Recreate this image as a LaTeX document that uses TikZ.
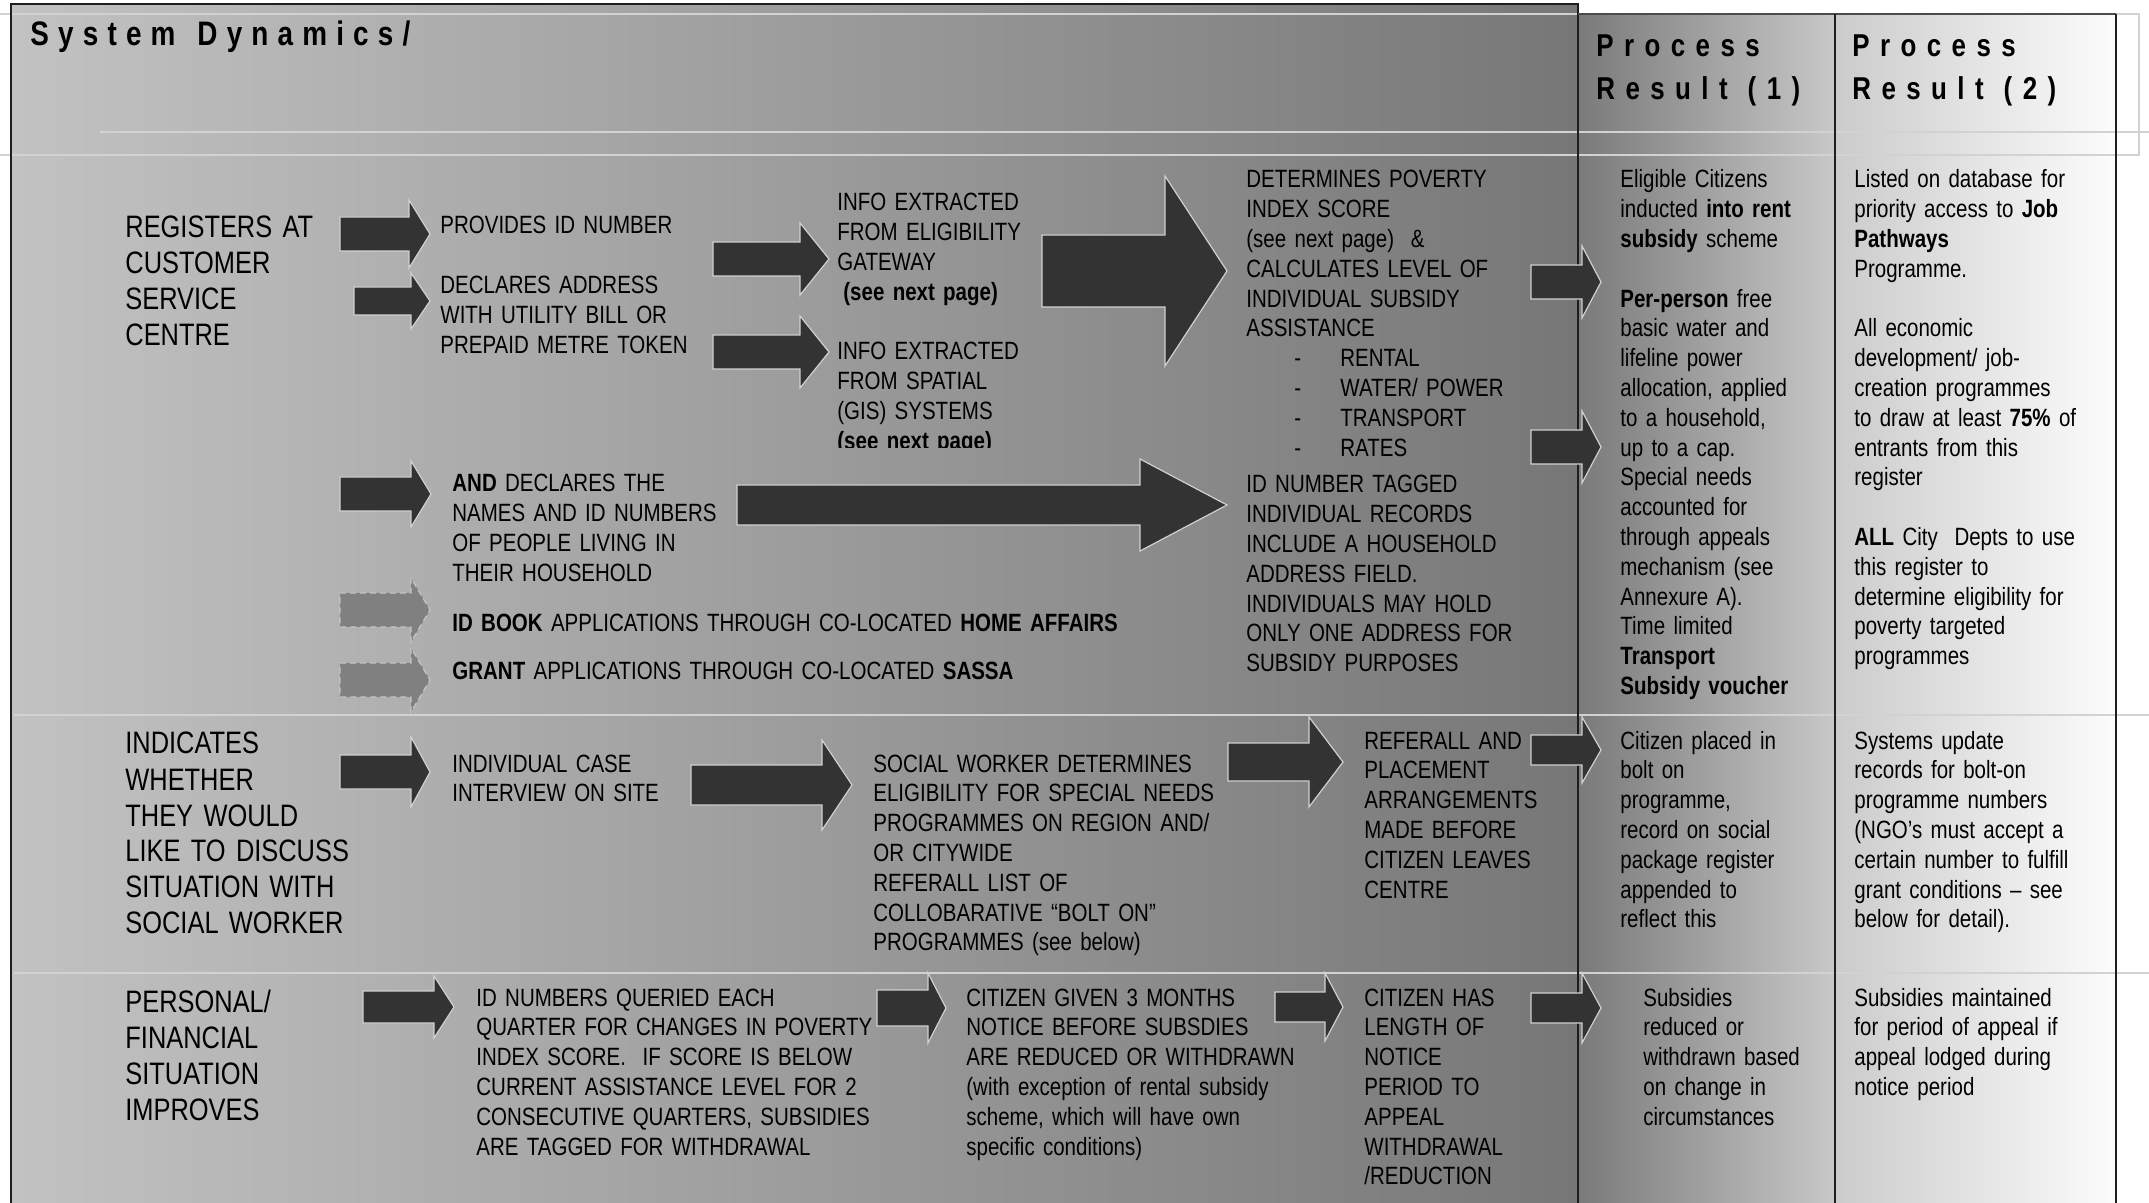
\documentclass[tikz,border=0pt]{standalone}
\usepackage{fontspec}
\setmainfont{Liberation Sans}[FakeStretch=0.82]
\newfontfamily\titlefont{Liberation Sans}[FakeStretch=0.82,LetterSpace=27]
\newfontfamily\headfont{Liberation Sans}[FakeStretch=0.82,LetterSpace=33]
\definecolor{panelL}{HTML}{C2C2C2}
\definecolor{panelR}{HTML}{777777}
\definecolor{resAL}{HTML}{7A7A7A}
\definecolor{resAR}{HTML}{C8C8C8}
\definecolor{resBL}{HTML}{CBCBCB}
\definecolor{resBR}{HTML}{FCFCFC}
\definecolor{arrowfill}{HTML}{333333}
\definecolor{arrowline}{HTML}{D0D0D0}
\definecolor{grayfill}{HTML}{808080}
\definecolor{softline}{HTML}{D2D2D2}
\definecolor{framecol}{HTML}{1E1E1E}
\tikzset{
  body/.style={anchor=base west, inner sep=0pt, text width=420pt, align=left,
    font=\fontsize{12.5pt}{14.9pt}\selectfont},
  rowhead/.style={body, font=\fontsize{15.5pt}{18pt}\selectfont},
  colhead/.style={anchor=base west, inner sep=0pt, text width=200pt, align=left,
    font=\headfont\bfseries\fontsize{15.8pt}{21.5pt}\selectfont},
  pagehead/.style={colhead, font=\titlefont\bfseries\fontsize{17pt}{20pt}\selectfont},
  blk/.style={fill=arrowfill, draw=arrowline, line width=0.6pt},
  blkgray/.style={fill=grayfill, draw=gray!45!white, densely dashed, line width=0.6pt}
}
\newcommand{\blockarrow}[7][blk]{%
  \draw[#1] (#2,#5-#6)--(#3,#5-#6)--(#3,#5-#7)--(#4,#5)--(#3,#5+#7)--(#3,#5+#6)--(#2,#5+#6)--cycle;}
\begin{document}
\begin{tikzpicture}[x=0.5pt,y=-0.5pt]
\useasboundingbox (0,0) rectangle (2149,1203);
\shade[left color=panelL, right color=panelR] (11,4) rectangle (1578,1203);
\shade[left color=resAL, right color=resAR] (1578,14) rectangle (1835,1203);
\shade[left color=resBL, right color=resBR] (1835,14) rectangle (2116,1203);
\draw[softline, line width=1pt] (0,14)--(2139,14)--(2139,155)--(0,155);
\draw[softline, line width=1pt] (100,132)--(2149,132);
\draw[softline, line width=1.2pt] (14,715)--(2149,715);
\draw[softline, line width=1.2pt] (14,973)--(2149,973);
\draw[framecol, line width=1pt] (11,1203)--(11,4)--(1578,4)--(1578,1203);
\draw[gray!60!black, line width=0.8pt] (1578,14)--(2116,14);
\draw[framecol, line width=1pt] (1835,14)--(1835,1203);
\draw[framecol, line width=1pt] (2116,14)--(2116,1203);

\node[pagehead] (title) at (30,46) {System\hspace*{11pt}Dynamics/};
\node[colhead] (resulta) at (1596,57) {Process\\Result\hspace*{10pt}(1)};
\node[colhead] (resultb) at (1852,57) {Process\\Result\hspace*{10pt}(2)};

\blockarrow{340}{409}{430}{234}{17}{34}
\blockarrow{354}{411}{430}{301}{14}{28}
\blockarrow{713}{800}{829}{259}{17}{36}
\blockarrow{713}{800}{829}{352}{17}{36}
\blockarrow{1042}{1165}{1227}{271}{36}{95}
\blockarrow{1531}{1582}{1601}{282}{17}{36}
\blockarrow{1531}{1582}{1601}{447}{17}{36}
\blockarrow{340}{411}{431}{494}{17}{33}
\blockarrow{737}{1140}{1227}{505}{20}{46}
\blockarrow[blkgray]{340}{411}{430}{610}{17}{32}
\blockarrow[blkgray]{340}{411}{430}{680}{17}{32}
\blockarrow{340}{411}{430}{772}{17}{35}
\blockarrow{691}{822}{852}{785}{20}{45}
\blockarrow{1228}{1309}{1343}{762}{19}{45}
\blockarrow{1531}{1582}{1601}{750}{15}{33}
\blockarrow{363}{434}{454}{1007}{16}{31}
\blockarrow{877}{928}{946}{1008}{18}{35}
\blockarrow{1275}{1325}{1343}{1007}{15}{34}
\blockarrow{1531}{1582}{1601}{1008}{15}{35}

\node[rowhead] (registers) at (125,238) {REGISTERS AT\\CUSTOMER\\SERVICE\\CENTRE};
\node[body] (provides) at (440,234) {PROVIDES ID NUMBER};
\node[body] (address) at (440,294) {DECLARES ADDRESS\\WITH UTILITY BILL OR\\PREPAID METRE TOKEN};
\node[body] (gateway) at (837,211) {INFO EXTRACTED\\FROM ELIGIBILITY\\GATEWAY\\\hspace*{3pt}\textbf{(see next page)}};
\begin{scope}
\clip (830,330) rectangle (1060,448);
\node[body] (spatial) at (837,360) {INFO EXTRACTED\\FROM SPATIAL\\(GIS) SYSTEMS\\\textbf{(see next page)}};
\end{scope}
\node[body] (poverty) at (1246,188) {DETERMINES POVERTY\\INDEX SCORE\\(see next page)\ \ \&\\CALCULATES LEVEL OF\\INDIVIDUAL SUBSIDY\\ASSISTANCE\\
\hspace*{24pt}\makebox[23pt][l]{-}RENTAL\\
\hspace*{24pt}\makebox[23pt][l]{-}WATER/ POWER\\
\hspace*{24pt}\makebox[23pt][l]{-}TRANSPORT\\
\hspace*{24pt}\makebox[23pt][l]{-}RATES};
\node[body] (household) at (452,492) {\textbf{AND} DECLARES THE\\NAMES AND ID NUMBERS\\OF PEOPLE LIVING IN\\THEIR HOUSEHOLD};
\node[body] (tagged) at (1246,493) {ID NUMBER TAGGED\\INDIVIDUAL RECORDS\\INCLUDE A HOUSEHOLD\\ADDRESS FIELD.\\INDIVIDUALS MAY HOLD\\ONLY ONE ADDRESS FOR\\SUBSIDY PURPOSES};
\node[body] (idbook) at (452,632) {\textbf{ID BOOK} APPLICATIONS THROUGH CO-LOCATED \textbf{HOME AFFAIRS}};
\node[body] (grant) at (452,679) {\textbf{GRANT} APPLICATIONS THROUGH CO-LOCATED \textbf{SASSA}};
\node[body] (rentres) at (1620,188) {Eligible Citizens\\inducted \textbf{into rent}\\\textbf{subsidy} scheme\\[14.9pt]
\textbf{Per-person} free\\basic water and\\lifeline power\\allocation, applied\\to a household,\\up to a cap.\\Special needs\\accounted for\\through appeals\\mechanism (see\\Annexure A).\\Time limited\\\textbf{Transport}\\\textbf{Subsidy voucher}};
\node[body] (jobres) at (1854,188) {Listed on database for\\priority access to \textbf{Job}\\\textbf{Pathways}\\Programme.\\[14.9pt]
All economic\\development/ job-\\creation programmes\\to draw at least \textbf{75\%} of\\entrants from this\\register\\[14.9pt]
\textbf{ALL} City\ \ Depts to use\\this register to\\determine eligibility for\\poverty targeted\\programmes};

\node[rowhead] (indicates) at (125,754) {INDICATES\\WHETHER\\THEY WOULD\\LIKE TO DISCUSS\\SITUATION WITH\\SOCIAL WORKER};
\node[body] (interview) at (452,772) {INDIVIDUAL CASE\\INTERVIEW ON SITE};
\node[body] (socialw) at (873,772) {SOCIAL WORKER DETERMINES\\ELIGIBILITY FOR SPECIAL NEEDS\\PROGRAMMES ON REGION AND/\\OR CITYWIDE\\REFERALL LIST OF\\COLLOBARATIVE “BOLT ON”\\PROGRAMMES (see below)};
\node[body] (referall) at (1364,749) {REFERALL AND\\PLACEMENT\\ARRANGEMENTS\\MADE BEFORE\\CITIZEN LEAVES\\CENTRE};
\node[body] (boltres) at (1620,749) {Citizen placed in\\bolt on\\programme,\\record on social\\package register\\appended to\\reflect this};
\node[body] (updateres) at (1854,749) {Systems update\\records for bolt-on\\programme numbers\\(NGO’s must accept a\\certain number to fulfill\\grant conditions – see\\below for detail).};

\node[rowhead] (improves) at (125,1012) {PERSONAL/\\FINANCIAL\\SITUATION\\IMPROVES};
\node[body] (queried) at (476,1006) {ID NUMBERS QUERIED EACH\\QUARTER FOR CHANGES IN POVERTY\\INDEX SCORE.\ \ IF SCORE IS BELOW\\CURRENT ASSISTANCE LEVEL FOR 2\\CONSECUTIVE QUARTERS, SUBSIDIES\\ARE TAGGED FOR WITHDRAWAL};
\node[body] (notice) at (966,1006) {CITIZEN GIVEN 3 MONTHS\\NOTICE BEFORE SUBSDIES\\ARE REDUCED OR WITHDRAWN\\(with exception of rental subsidy\\scheme, which will have own\\specific conditions)};
\node[body] (appeal) at (1364,1006) {CITIZEN HAS\\LENGTH OF\\NOTICE\\PERIOD TO\\APPEAL\\WITHDRAWAL\\/REDUCTION};
\node[body] (reducedres) at (1643,1006) {Subsidies\\reduced or\\withdrawn based\\on change in\\circumstances};
\node[body] (maintres) at (1854,1006) {Subsidies maintained\\for period of appeal if\\appeal lodged during\\notice period};
\end{tikzpicture}
\end{document}
